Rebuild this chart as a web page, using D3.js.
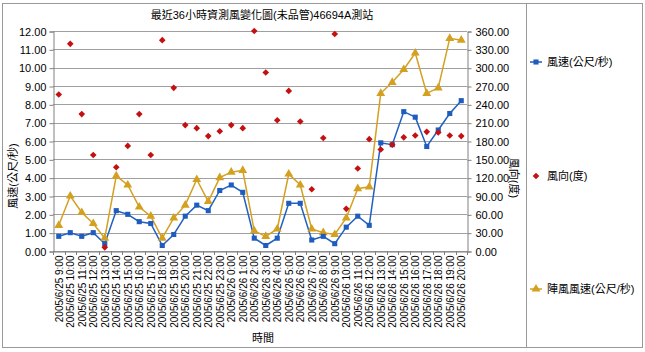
<!DOCTYPE html>
<html>
<head>
<meta charset="utf-8">
<script src="https://cdn.jsdelivr.net/npm/d3@7"></script>
<style>
  body { margin: 0; background: #fff; }
  text { font-family: "Liberation Sans", Arial, "Noto Sans CJK TC", sans-serif; fill: #000; }
</style>
</head>
<body>
<div id="chart"></div>
<script>
// hourly categories
const hours = [
  "2005/6/25 9:00", "2005/6/25 10:00", "2005/6/25 11:00", "2005/6/25 12:00", "2005/6/25 13:00",
  "2005/6/25 14:00", "2005/6/25 15:00", "2005/6/25 16:00", "2005/6/25 17:00", "2005/6/25 18:00",
  "2005/6/25 19:00", "2005/6/25 20:00", "2005/6/25 21:00", "2005/6/25 22:00", "2005/6/25 23:00",
  "2005/6/26 0:00", "2005/6/26 1:00", "2005/6/26 2:00", "2005/6/26 3:00", "2005/6/26 4:00",
  "2005/6/26 5:00", "2005/6/26 6:00", "2005/6/26 7:00", "2005/6/26 8:00", "2005/6/26 9:00",
  "2005/6/26 10:00", "2005/6/26 11:00", "2005/6/26 12:00", "2005/6/26 13:00", "2005/6/26 14:00",
  "2005/6/26 15:00", "2005/6/26 16:00", "2005/6/26 17:00", "2005/6/26 18:00", "2005/6/26 19:00",
  "2005/6/26 20:00"
];
const windSpeed = [0.8, 1.0, 0.8, 1.0, 0.4, 2.2, 2.0, 1.6, 1.5, 0.3, 0.9, 1.9, 2.5, 2.2, 3.3, 3.6, 3.2, 0.7,
  0.3, 0.7, 2.6, 2.6, 0.6, 0.8, 0.4, 1.3, 1.9, 1.4, 5.9, 5.8, 7.6, 7.3, 5.7, 6.6, 7.5, 8.2];
const windDir = [256, 339, 224, 157, 6, 137, 172, 224, 157, 345, 267, 206, 201, 188, 196, 206, 201, 360,
  292, 214, 262, 212, 101, 185, 355, 69, 135, 183, 166, 174, 186, 189, 195, 194, 189, 188];
const gust = [1.4, 3.0, 2.1, 1.5, 0.7, 4.1, 3.6, 2.4, 1.9, 0.7, 1.8, 2.5, 3.9, 2.7, 4.0, 4.3, 4.4, 1.1,
  0.8, 1.2, 4.2, 3.6, 1.2, 1.0, 0.9, 1.8, 3.4, 3.5, 8.6, 9.2, 9.9, 10.8, 8.6, 8.9, 11.6, 11.5];
const speedTicks = d3.range(0, 12.01, 1);
const dirTicks = d3.range(0, 360.1, 30);

const W = 645, H = 352;
const plot = { left: 53, right: 467, top: 31, bottom: 251 };

const svg = d3.select("#chart").append("svg")
  .attr("width", W)
  .attr("height", H);

// outer frame + legend divider
svg.append("rect")
  .attr("x", 2.5).attr("y", 3.5)
  .attr("width", 640).attr("height", 344)
  .attr("fill", "none").attr("stroke", "#999");
svg.append("line")
  .attr("x1", 526.5).attr("x2", 526.5)
  .attr("y1", 3.5).attr("y2", 347.5)
  .attr("stroke", "#999");

// scales
const x = d3.scaleBand()
  .domain(hours)
  .range([plot.left, plot.right]);
const y = d3.scaleLinear().domain([0, 12]).range([plot.bottom, plot.top]);
const y2 = d3.scaleLinear().domain([0, 360]).range([plot.bottom, plot.top]);
const cx = d => x(d) + x.bandwidth() / 2;

// gridlines
svg.append("g")
  .selectAll("line")
  .data(speedTicks)
  .join("line")
  .attr("x1", plot.left).attr("x2", plot.right)
  .attr("y1", d => Math.round(y(d)) + 0.5)
  .attr("y2", d => Math.round(y(d)) + 0.5)
  .attr("stroke", "#a0a0a0");

// axes
const fmt = d3.format(".2f");
const left = svg.append("g")
  .attr("transform", `translate(${plot.left + 0.5},0.5)`)
  .call(d3.axisLeft(y).tickValues(speedTicks).tickFormat(fmt).tickSize(4).tickPadding(3));
const right = svg.append("g")
  .attr("transform", `translate(${plot.right + 0.5},0.5)`)
  .call(d3.axisRight(y2).tickValues(dirTicks).tickFormat(fmt).tickSize(4).tickPadding(4));
const bottom = svg.append("g")
  .attr("transform", `translate(0.5,${plot.bottom + 0.5})`)
  .call(d3.axisBottom(x).tickSize(0).tickPadding(5));

// category boundary ticks
svg.append("g")
  .selectAll("line")
  .data(d3.range(hours.length + 1))
  .join("line")
  .attr("x1", i => Math.round(plot.left + i * x.step()) + 0.5)
  .attr("x2", i => Math.round(plot.left + i * x.step()) + 0.5)
  .attr("y1", plot.bottom)
  .attr("y2", plot.bottom + 4)
  .attr("stroke", "#808080");

[left, right, bottom].forEach(g => {
  g.select(".domain").attr("stroke", "#808080");
  g.selectAll(".tick line").attr("stroke", "#808080");
  g.selectAll("text").style("font-size", "11px").attr("fill", "#000");
});
bottom.selectAll("text")
  .style("font-size", "10px")
  .attr("transform", "rotate(-90)")
  .attr("text-anchor", "end")
  .attr("x", -4)
  .attr("y", 0)
  .attr("dy", "0.35em");

// gust line (drawn first so speed sits on top)
const lineSpeed = d3.line().x((d, i) => cx(hours[i])).y(d => y(d));
svg.append("path")
  .datum(gust)
  .attr("fill", "none")
  .attr("stroke", "#d4a020")
  .attr("stroke-width", 1.5)
  .attr("d", lineSpeed);
svg.append("path")
  .datum(windSpeed)
  .attr("fill", "none")
  .attr("stroke", "#2060c0")
  .attr("stroke-width", 1.5)
  .attr("d", lineSpeed);

const tri = d3.symbol().type(d3.symbolTriangle).size(34)();
const sq = d3.symbol().type(d3.symbolSquare).size(26)();
const dia = d3.symbol().type(d3.symbolSquare).size(22)();

svg.append("g")
  .selectAll("path")
  .data(gust)
  .join("path")
  .attr("transform", (d, i) => `translate(${cx(hours[i])},${y(d)})`)
  .attr("d", tri)
  .attr("fill", "#d4a020");

svg.append("g")
  .selectAll("path")
  .data(windSpeed)
  .join("path")
  .attr("transform", (d, i) => `translate(${cx(hours[i])},${y(d)})`)
  .attr("d", sq)
  .attr("fill", "#1e5cbe");

svg.append("g")
  .selectAll("path")
  .data(windDir)
  .join("path")
  .attr("transform", (d, i) => `translate(${cx(hours[i])},${y2(d)}) rotate(45)`)
  .attr("d", dia)
  .attr("fill", "#c41010");

// titles
svg.append("text")
  .attr("x", 262).attr("y", 19)
  .attr("text-anchor", "middle")
  .style("font-size", "11px")
  .text("最近36小時資測風變化圖(未品管)46694A測站");

svg.append("text")
  .attr("x", 263).attr("y", 342)
  .attr("text-anchor", "middle")
  .style("font-size", "11px")
  .text("時間");

svg.append("text")
  .attr("transform", "translate(17,176) rotate(-90)")
  .attr("text-anchor", "middle")
  .style("font-size", "11px")
  .text("風速(公尺/秒)");

svg.append("text")
  .attr("transform", "translate(510,178) rotate(90)")
  .attr("text-anchor", "middle")
  .style("font-size", "11px")
  .text("風向(度)");

// legend
const legend = [
  { label: "風速(公尺/秒)", color: "#1e5cbe", sym: sq, rot: 0, line: true, y: 62 },
  { label: "風向(度)", color: "#c41010", sym: dia, rot: 45, line: false, y: 176 },
  { label: "陣風風速(公尺/秒)", color: "#d4a020", sym: tri, rot: 0, line: true, y: 289 }
];
const lg = svg.append("g").selectAll("g").data(legend).join("g")
  .attr("transform", d => `translate(536,${d.y})`);
lg.filter(d => d.line).append("line")
  .attr("x1", -6).attr("x2", 6)
  .attr("stroke", d => d.color).attr("stroke-width", 1.5);
lg.append("path")
  .attr("d", d => d.sym)
  .attr("transform", d => `rotate(${d.rot})`)
  .attr("fill", d => d.color);
lg.append("text")
  .attr("x", 11).attr("dy", "0.35em")
  .style("font-size", "11px")
  .text(d => d.label);
</script>
</body>
</html>
